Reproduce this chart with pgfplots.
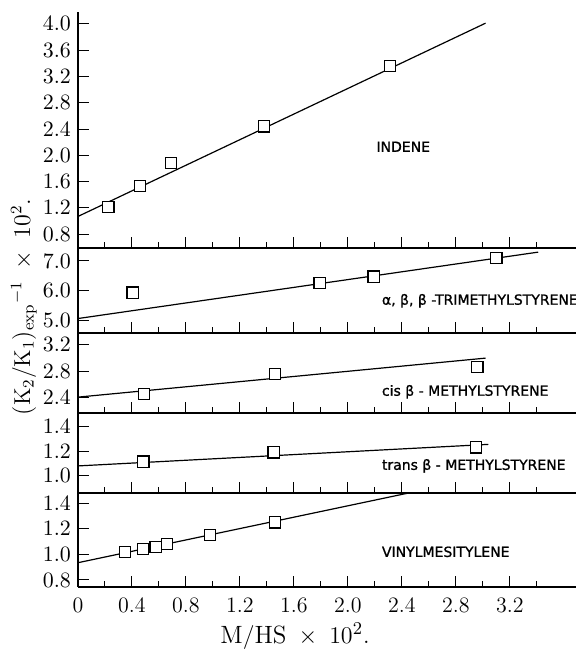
\documentclass[border=0pt]{standalone}
\usepackage{fontspec}
\usepackage{pgfplots}
\pgfplotsset{compat=1.18}
\newfontfamily\labfont[FakeBold=1]{DejaVu Sans}
\newcommand{\lab}[1]{{\labfont\fontsize{7}{8}\selectfont #1}}

% one strip of the stacked figure
\pgfplotsset{
  panel/.style={
    scale only axis, width=249pt,
    xmin=0, xmax=3.69,
    axis x line=bottom, axis y line=left,
    axis line style={-, line width=0.6pt},
    tick align=inside,
    major tick length=5.5pt, minor tick length=3pt,
    tick style={line width=0.5pt, black},
    xtick={0,0.4,0.8,1.2,1.6,2.0,2.4,2.8,3.2},
    minor xtick={0.2,0.6,1.0,1.4,1.8,2.2,2.6,3.0,3.4},
    xticklabels={},
    yticklabel style={font=\fontsize{11}{13}\selectfont,
      /pgf/number format/.cd, fixed, fixed zerofill, precision=1},
  },
  pts/.style={only marks, mark=square*, mark size=2.8pt,
    mark options={line width=0.6pt, draw=black, fill=white}},
  fit/.style={black, line width=0.6pt, no marks},
}

\begin{document}
\begin{tikzpicture}
\useasboundingbox (0,0) rectangle (288pt,325.5pt);

% INDENE
\begin{axis}[panel, at={(39pt,201.5pt)}, anchor=south west, height=118pt,
  ymin=0.59, ymax=4.18, ytick={0.8,1.2,1.6,2.0,2.4,2.8,3.2,3.6,4.0}]
\addplot[fit] coordinates {(0,1.07) (3.02,4.01)};
\addplot[pts] coordinates {(0.225,1.21) (0.46,1.53) (0.69,1.88) (1.38,2.44) (2.31,3.36)};
\node at (axis cs:2.41,2.13) {\lab{INDENE}};
\end{axis}

% trimethylstyrene
\begin{axis}[panel, at={(39pt,159pt)}, anchor=south west, height=42.5pt,
  ymin=4.56, ymax=7.44, ytick={5,6,7}]
\addplot[fit] coordinates {(0,5.05) (3.41,7.3)};
\addplot[pts] coordinates {(0.405,5.93) (1.79,6.25) (2.19,6.47) (3.1,7.1)};
\node[anchor=west] at (axis cs:2.2,5.65) {\lab{α, β, β -TRIMETHYLSTYRENE}};
\end{axis}

% cis
\begin{axis}[panel, at={(39pt,119pt)}, anchor=south west, height=40pt,
  ymin=2.17, ymax=3.38, ytick={2.4,2.8,3.2}]
\addplot[fit] coordinates {(0,2.41) (3.02,3.0)};
\addplot[pts] coordinates {(0.49,2.46) (1.46,2.76) (2.96,2.87)};
\node[anchor=west] at (axis cs:2.2,2.49) {\lab{cis  β - METHYLSTYRENE}};
\end{axis}

% trans
\begin{axis}[panel, at={(39pt,79pt)}, anchor=south west, height=40pt,
  ymin=0.86, ymax=1.51, ytick={1.0,1.2,1.4}]
\addplot[fit] coordinates {(0,1.08) (3.04,1.255)};
\addplot[pts] coordinates {(0.485,1.115) (1.45,1.19) (2.95,1.23)};
\node[anchor=west] at (axis cs:2.2,1.08) {\lab{trans  β - METHYLSTYRENE}};
\end{axis}

% vinylmesitylene
\begin{axis}[panel, at={(39pt,32pt)}, anchor=south west, height=47pt,
  ymin=0.745, ymax=1.48, ytick={0.8,1.0,1.2,1.4},
  xticklabels={0,0.4,0.8,1.2,1.6,2.0,2.4,2.8,3.2},
  xticklabel style={font=\fontsize{11}{13}\selectfont, yshift=-2pt}]
\addplot[fit] coordinates {(0,0.935) (2.45,1.48)};
\addplot[pts] coordinates {(0.35,1.02) (0.48,1.04) (0.575,1.06) (0.66,1.08) (0.98,1.15) (1.46,1.25)};
\node[anchor=west] at (axis cs:2.2,1.02) {\lab{VINYLMESITYLENE}};
\end{axis}

\node at (147.5pt,7.5pt) {\fontsize{12.5}{14}\selectfont $\mathrm{M/HS}\;\times\;10^{2}.$};
\node[rotate=90] at (12pt,172pt) {\fontsize{11.5}{14}\selectfont
  $(\mathrm{K}_2/\mathrm{K}_1)_{\mathrm{exp}}{}^{-1}\;\times\;10^{2}.$};
\end{tikzpicture}
\end{document}
